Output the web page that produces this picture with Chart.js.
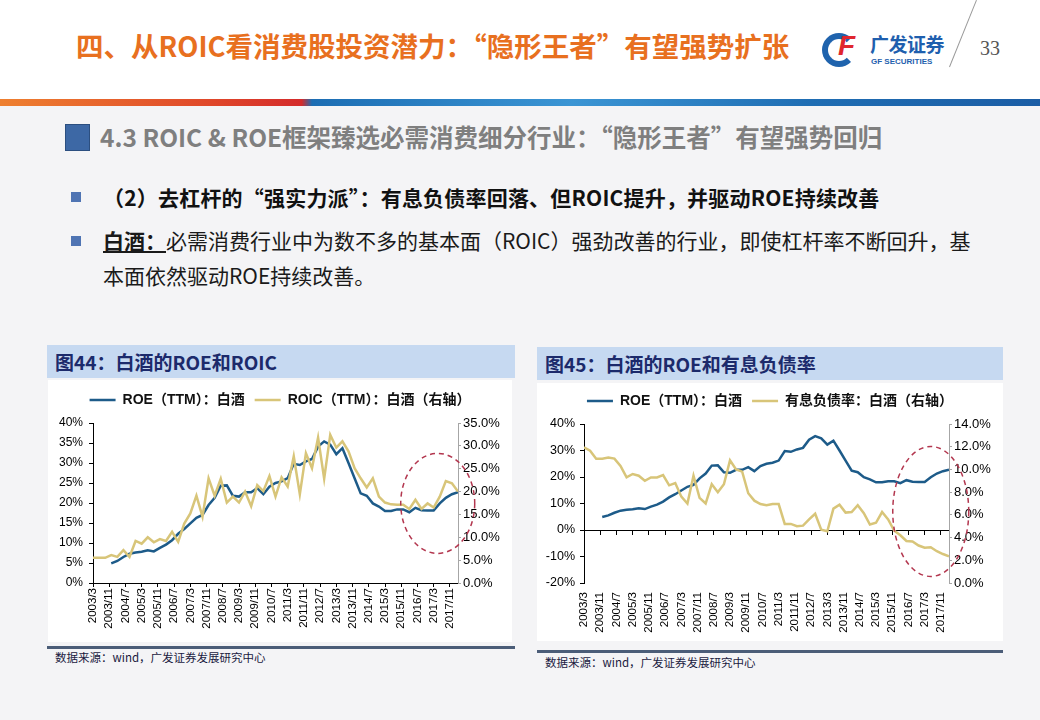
<!DOCTYPE html>
<html>
<head>
<meta charset="utf-8">
<script src="https://cdn.jsdelivr.net/npm/chart.js@4.4.0/dist/chart.umd.min.js"></script>
<style>
  body { margin: 0; width: 1040px; height: 720px; overflow: hidden; position: relative;
         background: #f4f4f6; font-family: "Noto Sans CJK SC", "Liberation Sans", sans-serif; }
  .abs { position: absolute; white-space: nowrap; }
  .top { left: 0; top: 0; width: 1040px; height: 99px; background: #fff; }
  .bar { left: 0; top: 99px; width: 1040px; height: 7px;
         background: linear-gradient(to right, #ee8030 0%, #e0482a 20%, #d42b2b 29%, #1c6db3 30%, #3b95d4 55%, #1f6db3 78%, #1b5da5 100%); }
  .title { left: 76px; top: 27px; font-size: 27.5px; line-height: 36px; font-weight: bold; color: #e8701f; }
  .logo-g { left: 822px; top: 33px; width: 22px; height: 22px; border: 6px solid #1f63ad; border-right-color: transparent; border-radius: 50%; }
  .logo-f { left: 838px; top: 28px; font-size: 28px; line-height: 36px; font-weight: bold; color: #e0262e; font-family: "Liberation Sans"; font-style: italic; }
  .logo-cn { left: 870px; top: 32px; font-size: 19px; line-height: 23px; font-weight: bold; color: #1f5fae; letter-spacing: -0.5px; }
  .logo-en { left: 871px; top: 57px; font-size: 8px; line-height: 10px; font-weight: bold; color: #1f5fae; font-family: "Liberation Sans"; }
  .slash { left: 976px; top: 0px; width: 1px; height: 72px; background: #9a9a9a; transform: rotate(22deg); transform-origin: top left; }
  .page { left: 980px; top: 35px; font-size: 20px; line-height: 26px; color: #555; font-family: "Liberation Serif", serif; }
  .sq { left: 65px; top: 124px; width: 23px; height: 25px; background: #3d68a5; border: 1px solid #2c4f80; }
  .h2 { left: 100px; top: 120px; font-size: 24.5px; line-height: 34px; font-weight: bold; color: #7f7f7f; }
  .dot { width: 10px; height: 10px; background: #4f74b3; }
  .l1 { left: 103px; top: 182px; font-size: 21px; line-height: 30px; font-weight: bold; color: #111; letter-spacing: 0.2px; }
  .l2 { left: 103px; top: 223px; font-size: 21px; line-height: 35px; color: #1a1a1a; }
  .l2 b { text-decoration: underline; }
  .hdr { height: 33px; background: #c6d9f1; }
  .hdr span { position: absolute; left: 8px; top: 0; line-height: 33px; font-size: 19px; font-weight: bold; color: #1c2a6b; }
  .panel { background: #fff; }
  .rule { height: 3px; background: #4b5d78; }
  .src { font-size: 11.5px; line-height: 14px; color: #1a1a40; }
</style>
</head>
<body>
<div class="abs top"></div>
<div class="abs bar"></div>
<div class="abs title">四、从ROIC看消费股投资潜力：“隐形王者”有望强势扩张</div>
<div class="abs logo-g"></div>
<div class="abs logo-f">F</div>
<div class="abs logo-cn">广发证券</div>
<div class="abs logo-en">GF SECURITIES</div>
<div class="abs slash"></div>
<div class="abs page">33</div>

<div class="abs sq"></div>
<div class="abs h2">4.3 ROIC &amp; ROE框架臻选必需消费细分行业：“隐形王者”有望强势回归</div>
<div class="abs dot" style="left:71px;top:192px"></div>
<div class="abs l1">（2）去杠杆的“强实力派”：有息负债率回落、但ROIC提升，并驱动ROE持续改善</div>
<div class="abs dot" style="left:71px;top:236px"></div>
<div class="abs l2"><b>白酒：</b>必需消费行业中为数不多的基本面（ROIC）强劲改善的行业，即使杠杆率不断回升，基<br>本面依然驱动ROE持续改善。</div>

<div class="abs hdr" style="left:47px;top:345px;width:468px"><span>图44：白酒的ROE和ROIC</span></div>
<div class="abs panel" style="left:48px;top:380px;width:464px;height:262px"><canvas id="roicChart" width="464" height="262"></canvas></div>
<div class="abs rule" style="left:47px;top:646px;width:468px"></div>
<div class="abs src" style="left:55px;top:650px">数据来源：wind，广发证券发展研究中心</div>

<div class="abs hdr" style="left:537px;top:347px;width:466px"><span>图45：白酒的ROE和有息负债率</span></div>
<div class="abs panel" style="left:537px;top:383px;width:466px;height:258px"><canvas id="debtChart" width="466" height="258"></canvas></div>
<div class="abs rule" style="left:537px;top:650px;width:466px"></div>
<div class="abs src" style="left:545px;top:655px">数据来源：wind，广发证券发展研究中心</div>

<script>
// quarterly report dates
const quarters = [
  "2003/3", "2003/6", "2003/9", "2003/12", "2004/3", "2004/6", "2004/9", "2004/12",
  "2005/3", "2005/6", "2005/9", "2005/12", "2006/3", "2006/6", "2006/9", "2006/12",
  "2007/3", "2007/6", "2007/9", "2007/12", "2008/3", "2008/6", "2008/9", "2008/12",
  "2009/3", "2009/6", "2009/9", "2009/12", "2010/3", "2010/6", "2010/9", "2010/12",
  "2011/3", "2011/6", "2011/9", "2011/12", "2012/3", "2012/6", "2012/9", "2012/12",
  "2013/3", "2013/6", "2013/9", "2013/12", "2014/3", "2014/6", "2014/9", "2014/12",
  "2015/3", "2015/6", "2015/9", "2015/12", "2016/3", "2016/6", "2016/9", "2016/12",
  "2017/3", "2017/6", "2017/9", "2017/12", "2018/3"
];

// axis tick labels (every 8 months)
const tickLabels = [
  "2003/3", "2003/11", "2004/7", "2005/3", "2005/11", "2006/7", "2007/3", "2007/11",
  "2008/7", "2009/3", "2009/11", "2010/7", "2011/3", "2011/11", "2012/7", "2013/3",
  "2013/11", "2014/7", "2015/3", "2015/11", "2016/7", "2017/3", "2017/11"
];

// ROE (TTM), %
const roe = [
  null, null, null, 4.9, 5.5, 6.5, 7.3, 7.6, 7.8, 8.2, 7.9, 8.8, 9.6, 10.7, 12.3, 13.5,
  14.9, 16.3, 17.0, 19.5, 21.3, 24.3, 24.4, 21.8, 21.6, 22.7, 22.7, 23.7, 22.2, 24.1, 25.0, 25.4,
  26.2, 29.8, 29.5, 30.4, 31.0, 34.1, 35.4, 34.6, 32.2, 33.7, 30.0, 26.2, 22.4, 21.8, 19.9, 19.1,
  18.0, 18.0, 18.4, 18.4, 17.7, 18.8, 18.2, 18.1, 18.1, 19.9, 21.3, 22.2, 22.7
];

// ROIC (TTM), % (right axis)
const roic = [
  5.5, 5.5, 5.5, 6.1, 5.7, 7.2, 5.7, 9.2, 8.6, 10.0, 8.9, 9.6, 9.2, 11.2, 9.0, 13.0,
  15.2, 19.1, 14.5, 22.9, 19.1, 22.8, 17.6, 18.9, 17.6, 20.0, 16.8, 21.4, 20.1, 23.4, 18.9, 23.1,
  21.1, 27.7, 19.4, 28.4, 25.1, 31.8, 22.8, 32.4, 29.6, 31.0, 28.8, 25.1, 22.9, 20.9, 22.9, 18.9,
  17.6, 17.2, 17.1, 17.1, 16.2, 18.2, 16.2, 17.4, 16.5, 18.9, 22.3, 21.8, 20.0
];

// interest-bearing debt ratio, % (right axis)
const debtRatio = [
  11.95, 11.65, 10.95, 10.95, 11.05, 10.95, 10.3, 9.3, 9.6, 9.45, 9.0, 9.3, 9.3, 9.5, 8.6, 8.8,
  7.6, 7.0, 9.45, 7.5, 7.0, 8.7, 8.0, 8.7, 10.8, 10.0, 9.8, 7.9, 7.25, 6.95, 6.85, 6.95,
  6.95, 5.2, 5.2, 5.0, 5.05, 5.6, 6.1, 4.7, 4.55, 6.55, 6.9, 6.2, 6.25, 6.85, 6.15, 5.15,
  5.3, 6.25, 5.6, 4.6, 4.2, 3.7, 3.65, 3.3, 3.1, 3.15, 2.8, 2.55, 2.35
];

const BLUE = "#1d5b89";
const GOLD = "#d8c579";

Chart.defaults.font.family = '"Liberation Sans", "Noto Sans CJK SC", sans-serif';
Chart.defaults.color = "#000";

function monthIndex(label) {
  const [y, m] = label.split("/").map(Number);
  return (y - 2003) * 12 + (m - 3);
}

function points(values) {
  return quarters.map((q, i) => ({ x: monthIndex(q), y: values[i] }));
}

function setMonthTicks(axis) {
  axis.ticks = tickLabels.map((t) => ({ value: monthIndex(t) }));
}

// push the plot area down a bit below the legend
const legendGap = {
  id: "legendGap",
  beforeInit(chart) {
    const fit = chart.legend.fit;
    chart.legend.fit = function () {
      fit.bind(chart.legend)();
      this.height += 6;
    };
  },
};

// red dashed highlight ellipse
const ellipse = {
  id: "ellipse",
  afterDraw(chart, args, opts) {
    const { ctx, scales } = chart;
    const cx = scales.x.getPixelForValue(opts.month);
    const cy = scales.y.getPixelForValue(opts.value);
    ctx.save();
    ctx.beginPath();
    ctx.setLineDash([5, 4]);
    ctx.lineWidth = 1.5;
    ctx.strokeStyle = "#b3374f";
    ctx.ellipse(cx, cy, opts.rx, opts.ry, 0, 0, Math.PI * 2);
    ctx.stroke();
    ctx.restore();
  },
};

const legendOpts = {
  position: "top",
  labels: {
    usePointStyle: true,
    pointStyle: "line",
    pointStyleWidth: 26,
    padding: 10,
    font: { size: 14, weight: "bold" },
    color: "#111",
    sort: (a, b) => a.datasetIndex - b.datasetIndex,
  },
};

const xTicks = {
  autoSkip: false,
  minRotation: 90,
  maxRotation: 90,
  padding: 1,
  font: { size: 11.5 },
  callback: (v, i) => tickLabels[i],
};

new Chart(document.getElementById("roicChart"), {
  type: "line",
  data: {
    datasets: [
      { label: "ROE（TTM）：白酒", data: points(roe), borderColor: BLUE, backgroundColor: BLUE,
        borderWidth: 2.5, pointRadius: 0, yAxisID: "y", order: 1 },
      { label: "ROIC（TTM）：白酒（右轴）", data: points(roic), borderColor: GOLD, backgroundColor: GOLD,
        borderWidth: 2.5, pointRadius: 0, yAxisID: "y1", order: 0 },
    ],
  },
  options: {
    responsive: false,
    animation: false,
    layout: { padding: { top: 3 } },
    plugins: {
      legend: legendOpts,
      tooltip: { enabled: false },
      ellipse: { month: 170, value: 19.9, rx: 37, ry: 50 },
    },
    scales: {
      x: {
        type: "linear", min: 0, max: 180,
        afterBuildTicks: setMonthTicks,
        afterFit: (s) => { s.height = 59; },
        ticks: xTicks,
        grid: { drawOnChartArea: false, tickLength: 4, color: "#000" },
        border: { color: "#000" },
      },
      y: {
        min: 0, max: 40,
        afterFit: (s) => { s.width = 45; },
        ticks: { stepSize: 5, padding: 6, font: { size: 12 }, callback: (v) => v + "%" },
        grid: { drawOnChartArea: false, tickLength: 4, color: "#000" },
        border: { color: "#000" },
      },
      y1: {
        position: "right", min: 0, max: 35,
        afterFit: (s) => { s.width = 54; },
        ticks: { stepSize: 5, padding: 2, font: { size: 13 }, callback: (v) => v.toFixed(1) + "%" },
        grid: { drawOnChartArea: false, tickLength: 3, color: "#a6a6a6" },
        border: { color: "#a6a6a6" },
      },
    },
  },
  plugins: [legendGap, ellipse],
});

new Chart(document.getElementById("debtChart"), {
  type: "line",
  data: {
    datasets: [
      { label: "ROE（TTM）：白酒", data: points(roe), borderColor: BLUE, backgroundColor: BLUE,
        borderWidth: 2.5, pointRadius: 0, yAxisID: "y", order: 1 },
      { label: "有息负债率：白酒（右轴）", data: points(debtRatio), borderColor: GOLD, backgroundColor: GOLD,
        borderWidth: 2.5, pointRadius: 0, yAxisID: "y1", order: 0 },
    ],
  },
  options: {
    responsive: false,
    animation: false,
    layout: { padding: { top: 1 } },
    plugins: {
      legend: legendOpts,
      tooltip: { enabled: false },
      ellipse: { month: 171, value: 7, rx: 38, ry: 65 },
    },
    scales: {
      x: {
        type: "linear", min: 0, max: 180,
        afterBuildTicks: setMonthTicks,
        afterFit: (s) => { s.height = 58; },
        ticks: xTicks,
        grid: { display: false },
        border: { display: false },
      },
      // axis line crossing at 0%
      x0: {
        type: "linear", axis: "x", position: { y: 0 }, min: 0, max: 180,
        afterBuildTicks: setMonthTicks,
        ticks: { display: false },
        grid: { drawOnChartArea: false, tickLength: 4, color: "#000" },
        border: { color: "#000" },
      },
      y: {
        min: -20, max: 40,
        afterFit: (s) => { s.width = 47; },
        ticks: { stepSize: 10, padding: 5, font: { size: 12.5 }, callback: (v) => v + "%" },
        grid: { drawOnChartArea: false, tickLength: 4, color: "#000" },
        border: { color: "#000" },
      },
      y1: {
        position: "right", min: 0, max: 14,
        afterFit: (s) => { s.width = 54; },
        ticks: { stepSize: 2, padding: 2, font: { size: 13 }, callback: (v) => v.toFixed(1) + "%" },
        grid: { drawOnChartArea: false, tickLength: 3, color: "#a6a6a6" },
        border: { color: "#a6a6a6" },
      },
    },
  },
  plugins: [legendGap, ellipse],
});
</script>
</body>
</html>
